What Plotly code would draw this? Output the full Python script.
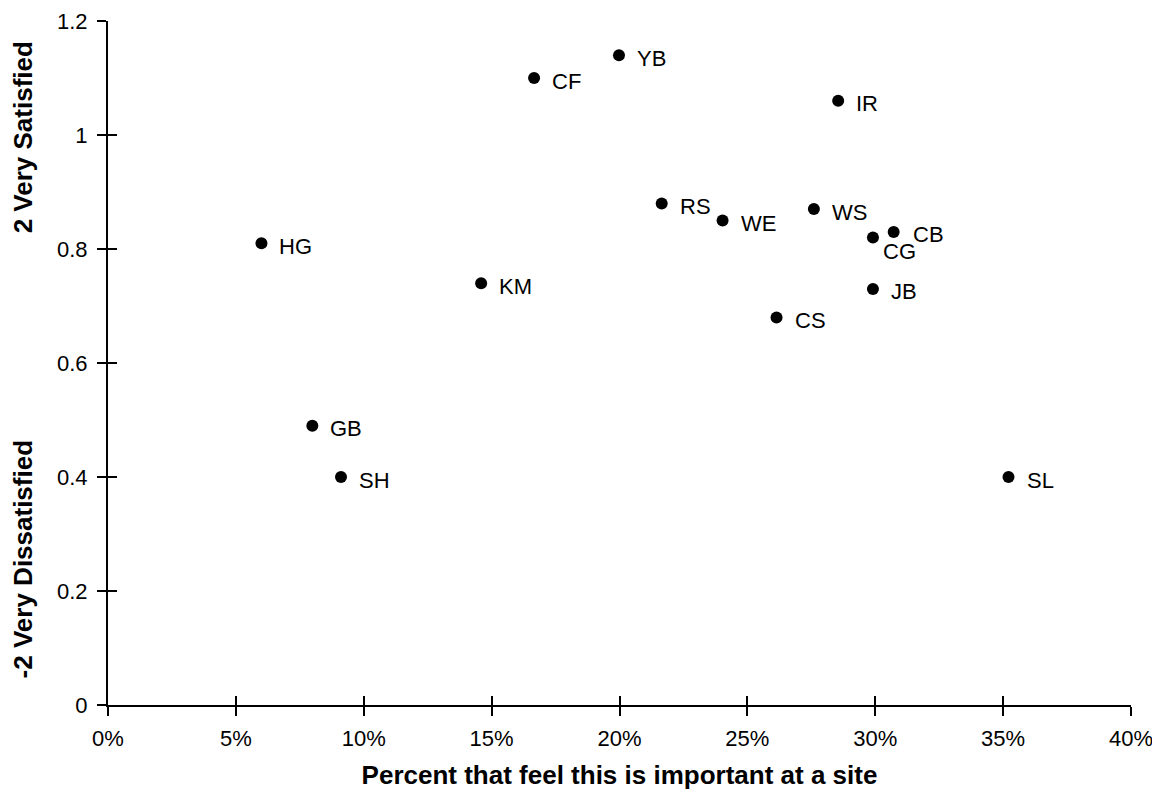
import plotly.graph_objects as go

labels = ["CF", "YB", "IR", "RS", "WE", "WS", "CB", "CG", "JB", "CS", "HG", "KM", "GB", "SH", "SL"]
pct_important = [0.1666, 0.1998, 0.2855, 0.2165, 0.2403, 0.2760, 0.3072, 0.2991, 0.2991, 0.2614, 0.0600, 0.1459, 0.0799, 0.0911, 0.3521]
satisfaction = [1.10, 1.14, 1.06, 0.88, 0.85, 0.87, 0.83, 0.82, 0.73, 0.68, 0.81, 0.74, 0.49, 0.40, 0.40]

x_ticks = [0, 0.05, 0.10, 0.15, 0.20, 0.25, 0.30, 0.35, 0.40]
y_ticks = [0, 0.2, 0.4, 0.6, 0.8, 1.0, 1.2]
y_tick_text = ["0", "0.2", "0.4", "0.6", "0.8", "1", "1.2"]

FONT = "Arial, Liberation Sans, sans-serif"

fig = go.Figure()
fig.add_trace(go.Scatter(
    x=pct_important, y=satisfaction, mode="markers",
    marker=dict(color="black", size=12, line=dict(width=0)),
    showlegend=False, hoverinfo="skip",
))
# invisible trace to carry the overlay axes (inside half of the cross ticks)
fig.add_trace(go.Scatter(x=[None], y=[None], xaxis="x2", yaxis="y2",
                         showlegend=False, hoverinfo="skip"))

for lab, xv, yv in zip(labels, pct_important, satisfaction):
    if lab == "CG":
        xs, ys = 8, -14
    elif lab == "CB":
        xs, ys = 17, -3
    else:
        xs, ys = 16, -3
    fig.add_annotation(x=xv, y=yv, text=lab, showarrow=False, xanchor="left",
                       yanchor="middle", xshift=xs, yshift=ys,
                       font=dict(family=FONT, size=22, color="black"))

axis_common = dict(showgrid=False, zeroline=False, showline=True,
                   linecolor="black", linewidth=2, tickcolor="black",
                   tickwidth=2, ticklen=9, automargin=False)

fig.update_layout(
    width=1160, height=791,
    margin=dict(l=100, r=37, t=13, b=94),
    paper_bgcolor="white", plot_bgcolor="white",
    font=dict(family=FONT, size=22, color="black"),
    xaxis=dict(range=[0, 0.4], tickvals=x_ticks, tickformat=".0%", ticks="outside",
               ticklabelstandoff=4, ticklabeloverflow="allow",
               title=dict(text="<b>Percent that feel this is important at a site</b>",
                          font=dict(family=FONT, size=26, color="black")),
               **axis_common),
    yaxis=dict(range=[0, 1.2], tickvals=y_ticks, ticktext=y_tick_text, ticks="outside",
               ticklabelstandoff=5, ticklabeloverflow="allow",
               **axis_common),
    xaxis2=dict(range=[0, 0.4], tickvals=x_ticks, ticks="inside", overlaying="x",
                side="bottom", showticklabels=False, anchor="y2", **axis_common),
    yaxis2=dict(range=[0, 1.2], tickvals=y_ticks, ticks="inside", overlaying="y",
                side="left", showticklabels=False, anchor="x2", **axis_common),
)

fig.add_annotation(xref="paper", yref="paper", x=-0.083, y=0.83,
                   text="<b>2 Very Satisfied</b>", textangle=-90, showarrow=False,
                   xanchor="center", yanchor="middle",
                   font=dict(family=FONT, size=26, color="black"))
fig.add_annotation(xref="paper", yref="paper", x=-0.083, y=0.213,
                   text="<b>-2 Very Dissatisfied</b>", textangle=-90, showarrow=False,
                   xanchor="center", yanchor="middle",
                   font=dict(family=FONT, size=26, color="black"))

fig.write_html("out.html")
